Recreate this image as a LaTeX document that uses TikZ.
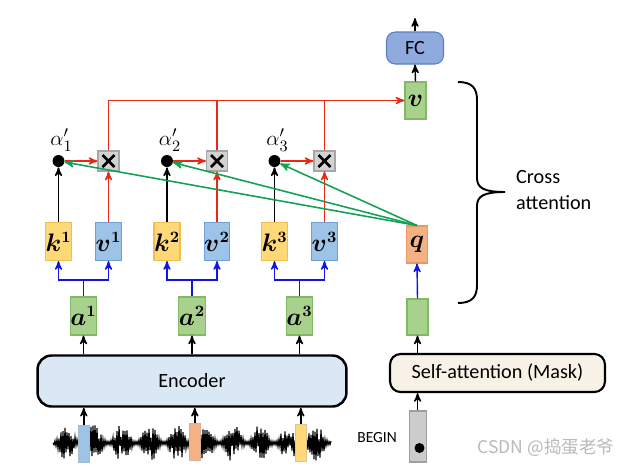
\documentclass[tikz,border=0pt]{standalone}
\usepackage{amsmath,bm}
\usepackage{fontspec}
\setmainfont{Carlito}
\newfontfamily\cjkfont{Noto Sans CJK SC}
\usetikzlibrary{calc}
\usetikzlibrary{arrows}

\definecolor{kfill}{RGB}{255,217,120}
\definecolor{kline}{RGB}{240,190,80}
\definecolor{vfill}{RGB}{157,195,230}
\definecolor{vline}{RGB}{110,160,215}
\definecolor{afill}{RGB}{169,209,142}
\definecolor{aline}{RGB}{130,185,100}
\definecolor{qfill}{RGB}{244,177,131}
\definecolor{qline}{RGB}{236,150,100}
\definecolor{fcfill}{RGB}{143,170,220}
\definecolor{fcline}{RGB}{90,125,200}
\definecolor{encfill}{RGB}{218,232,245}
\definecolor{safill}{RGB}{247,241,230}
\definecolor{redline}{RGB}{232,40,20}
\definecolor{blueline}{RGB}{20,20,225}
\definecolor{greenline}{RGB}{20,160,85}

\tikzset{
  vec/.style={draw, line width=.6pt, minimum width=.42cm, minimum height=.76cm, inner sep=0pt,
    font=\fontsize{13.5}{15}\selectfont},
  kbox/.style={vec, fill=kfill, draw=kline},
  vbox/.style={vec, fill=vfill, draw=vline},
  abox/.style={vec, fill=afill, draw=aline},
  qbox/.style={vec, fill=qfill, draw=qline},
  mulbox/.style={draw=gray!70, fill=gray!35, line width=.6pt, minimum width=.42cm, minimum height=.4cm,
    inner sep=0pt, path picture={
      \draw[black, line width=1.5pt] ($(path picture bounding box.center)+(-.12cm,-.12cm)$) -- ++(.24cm,.24cm);
      \draw[black, line width=1.5pt] ($(path picture bounding box.center)+(-.12cm,.12cm)$) -- ++(.24cm,-.24cm);}},
  wdot/.style={circle, fill=black, minimum size=.24cm, inner sep=0pt},
  seg/.style={draw=#1!80!black!70, fill=#1, line width=.5pt, minimum width=.22cm, minimum height=.74cm, inner sep=0pt},
  redarr/.style={redline, line width=.8pt},
  bluearr/.style={blueline, line width=.8pt},
  greenarr/.style={greenline, line width=.9pt},
}

\begin{document}
\begin{tikzpicture}[x=0.02cm, y=-0.02cm, >=stealth', font=\fontsize{11.5}{14.7}\selectfont]
\useasboundingbox (0,0) rectangle (630,467);

% speech signal
\pgfmathsetseed{11}
\draw[line width=.65pt] (53,443) \foreach \i in {1,...,278} {
  -- (53+\i, {443+(2*mod(\i,2)-1)*(1.5+18*sqrt(rnd)*pow(abs(sin(\i*6.5)),2))}) };
\node[seg=vfill] (seg1) at (83.8,443.5) {};
\node[seg=qfill] (seg2) at (194.8,442) {};
\node[seg=kfill] (seg3) at (300.8,442.5) {};

% encoder
\node[draw, line width=1.4pt, rounded corners=8, fill=encfill, minimum width=6.18cm, minimum height=1.02cm]
  (enc) at (192,381) {Encoder};
\foreach \i in {1,2,3}
  \draw[->, line width=.8pt] (seg\i.north) -- (seg\i |- enc.south);

% keys, values, weights
\foreach \i/\x in {1/58.5,2/167,3/274.5} {
  \node[abox] (a\i) at (\x+25,316) {$\bm{a^{\i}}$};
  \node[kbox] (k\i) at (\x,241.5) {$\bm{k^{\i}}$};
  \node[vbox] (v\i) at (\x+50,241.5) {$\bm{v^{\i}}$};
  \node[wdot] (d\i) at (\x,161) {};
  \node[mulbox] (m\i) at (\x+50,161) {};
  \node (l\i) at (\x+3,140) {\fontsize{13}{13}\selectfont$\alpha'_{\i}$};
  \coordinate (s\i) at (a\i.north |- 0,280);
  \draw[->, line width=.8pt] (a\i |- enc.north) -- (a\i.south);
  \draw[->, bluearr] (a\i.north) -- (s\i) -| (k\i.south);
  \draw[->, bluearr] (s\i) -| (v\i.south);
  \draw[->, line width=.8pt] (k\i.north) -- (d\i);
  \draw[->, redarr] (d\i) -- (m\i);
  \draw[->, redarr] (v\i.north) -- (m\i.south);
}

% decoder side
\node[abox, minimum height=.74cm] (out) at (415.5,100.5) {$\bm{v}$};
\node[draw=fcline, fill=fcfill, line width=.6pt, rounded corners=5, minimum width=1.14cm, minimum height=.64cm]
  (fc) at (415,48) {FC};
\node[qbox, minimum height=.74cm] (q) at (417,244.5) {$\bm{q}$};
\node[abox, minimum height=.72cm] (h) at (417.5,317) {};
\node[draw, line width=1.2pt, rounded corners=6, fill=safill, minimum width=4.3cm, minimum height=.76cm]
  (sa) at (497.5,373) {Self-attention (Mask)};
\node[draw=gray!75, fill=gray!40, line width=.6pt, minimum width=.34cm, minimum height=1.02cm, inner sep=0pt]
  (bg) at (417.6,436.5) {};
\node[wdot, minimum size=.2cm] (bgdot) at (419.5,448) {};
\node[anchor=east, font=\fontsize{8.8}{9}\selectfont] (bgtext) at (403,438) {BEGIN};
\coordinate (top) at (415,18);

\draw[->, line width=.8pt] (bg.north) -- (bg.north |- sa.south);
\draw[->, line width=.8pt] (h |- sa.north) -- (h.south);
\draw[->, bluearr] (h.north) -- (q.south);
\draw[->, line width=.8pt] (out.north) -- (fc.south);
\draw[->, line width=.8pt] (fc.north) -- (top);

% weighted sum
\draw[->, redarr] (m1.north) |- (out.west);
\draw[redarr] (m2.north) -- (m2 |- out.west);
\draw[redarr] (m3.north) -- (m3 |- out.west);

% query to keys
\foreach \i in {1,2,3}
  \draw[->, greenarr] (q.north) -- (d\i);

% brace
\draw[line width=1.1pt] (458,82) .. controls (472,82) and (477,88) .. (477,100) -- (477,178)
  .. controls (477,188) and (484,192) .. (505,192)
  .. controls (484,192) and (477,196) .. (477,206) -- (477,285)
  .. controls (477,297) and (472,303) .. (458,303);
\node[anchor=west, align=left] (cross) at (510,190) {Cross\\attention};

\node[text=gray!55, font=\cjkfont\fontsize{10}{12}\selectfont] (mark) at (546,448) {CSDN @捣蛋老爷};
\end{tikzpicture}
\end{document}
